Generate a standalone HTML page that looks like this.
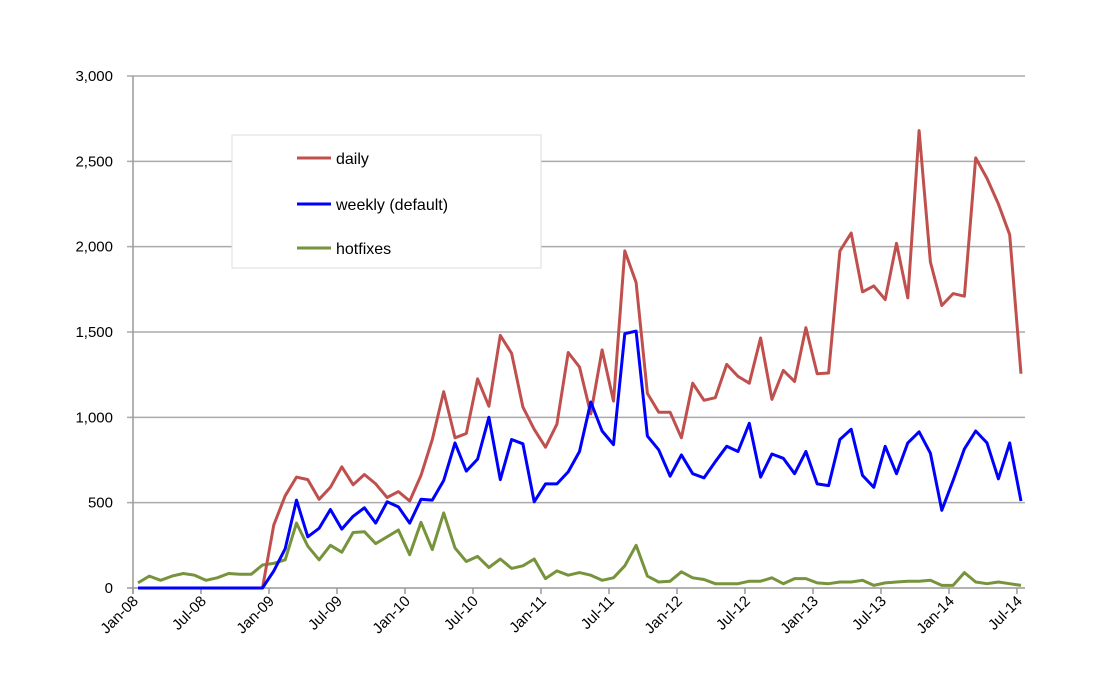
<!DOCTYPE html>
<html><head><meta charset="utf-8"><style>
body{margin:0;background:#fff;}
svg{display:block;font-family:"Liberation Sans",Arial,sans-serif;}
</style></head><body>
<svg id="chart" width="1114" height="686" viewBox="0 0 1114 686">
<g id="grid"></g><g id="axes"></g><g id="series"></g>
<g>
<rect x="232" y="135" width="309" height="133" fill="#fff" stroke="#ddd" stroke-width="1"/>
<line x1="297" y1="158" x2="331" y2="158" stroke="#c0504d" stroke-width="3"/>
<text x="336" y="164" font-size="16">daily</text>
<line x1="297" y1="204" x2="331" y2="204" stroke="#0000ff" stroke-width="3"/>
<text x="336" y="210" font-size="16">weekly (default)</text>
<line x1="297" y1="248" x2="331" y2="248" stroke="#77933c" stroke-width="3"/>
<text x="336" y="254" font-size="16">hotfixes</text>
</g>
</svg>
<script>
const xTickLabels=["Jan-08","Jul-08","Jan-09","Jul-09","Jan-10","Jul-10","Jan-11","Jul-11","Jan-12","Jul-12","Jan-13","Jul-13","Jan-14","Jul-14"];
const yTicks=[0,500,1000,1500,2000,2500,3000];
const daily=[0,0,0,0,0,0,0,0,0,0,0,0,370,540,650,635,520,590,710,605,665,610,530,565,510,660,870,1150,880,905,1225,1065,1480,1375,1060,930,825,960,1380,1295,1020,1395,1095,1975,1790,1140,1030,1030,880,1200,1100,1115,1310,1240,1200,1465,1105,1275,1210,1525,1255,1260,1975,2080,1735,1770,1690,2020,1700,2680,1910,1655,1725,1710,2520,2400,2250,2070,1255];
const weekly=[0,0,0,0,0,0,0,0,0,0,0,0,100,230,515,300,350,460,345,420,470,380,505,475,380,520,515,630,850,685,755,1000,635,870,845,505,610,610,680,800,1090,920,840,1490,1505,890,810,655,780,670,645,740,830,800,965,650,785,760,670,800,610,600,870,930,660,590,830,670,850,915,790,455,630,815,920,850,640,850,510];
const hotfixes=[30,70,45,70,85,75,45,60,85,80,80,135,145,165,380,245,165,250,210,325,330,260,300,340,195,385,225,440,235,155,185,120,170,115,130,170,55,100,75,90,75,45,60,130,250,70,35,40,95,60,50,25,25,25,40,40,60,25,55,55,30,25,35,35,45,15,30,35,40,40,45,15,15,90,35,25,35,25,15];
const NS="http://www.w3.org/2000/svg";
const X0=133,PX=11.333,Y0=588,YTOP=76,YMAX=3000,XR=1025;
function xIdx(i){return 138+i*((1021-138)/78);}
function xMonth(m){return X0+m*PX;}
function y(v){return Y0-(v/YMAX)*(Y0-YTOP);}
function mk(tag,attrs,parent){const e=document.createElementNS(NS,tag);for(const k in attrs)e.setAttribute(k,attrs[k]);parent.appendChild(e);return e;}
const grid=document.getElementById('grid'),axes=document.getElementById('axes'),series=document.getElementById('series');
yTicks.forEach(v=>{
 const l=mk('line',{x1:127,x2:XR,y1:y(v),y2:y(v),stroke:v===0?'#999':'#aaa','stroke-width':1.5},grid);
 
 
 const t=mk('text',{x:113,y:y(v)+5,'text-anchor':'end','font-size':15,fill:'#000'},axes);
 t.textContent=v.toLocaleString('en-US');
 
 
});
const ya=mk('line',{x1:X0,x2:X0,y1:YTOP,y2:Y0+6,stroke:'#999','stroke-width':1.5},axes);


xTickLabels.forEach((s,i)=>{
 const xx=xMonth(i*6);
 mk('line',{x1:xx,x2:xx,y1:Y0,y2:Y0+6,stroke:'#999','stroke-width':1.5},axes);
 const t=mk('text',{x:0,y:0,'text-anchor':'end','font-size':15,transform:`translate(${xx+6},${Y0+14}) rotate(-45)`},axes);
 t.textContent=s;
 
 
});
function line(data,color,name){
 const p=mk('polyline',{points:data.map((v,i)=>xIdx(i).toFixed(1)+','+y(v).toFixed(1)).join(' '),fill:'none',stroke:color,'stroke-width':3,'stroke-linejoin':'round'},series);
 
 
}
line(hotfixes,'#77933c','series-hotfixes');
line(daily,'#c0504d','series-daily');
line(weekly,'#0000ff','series-weekly');
</script>
</body></html>
